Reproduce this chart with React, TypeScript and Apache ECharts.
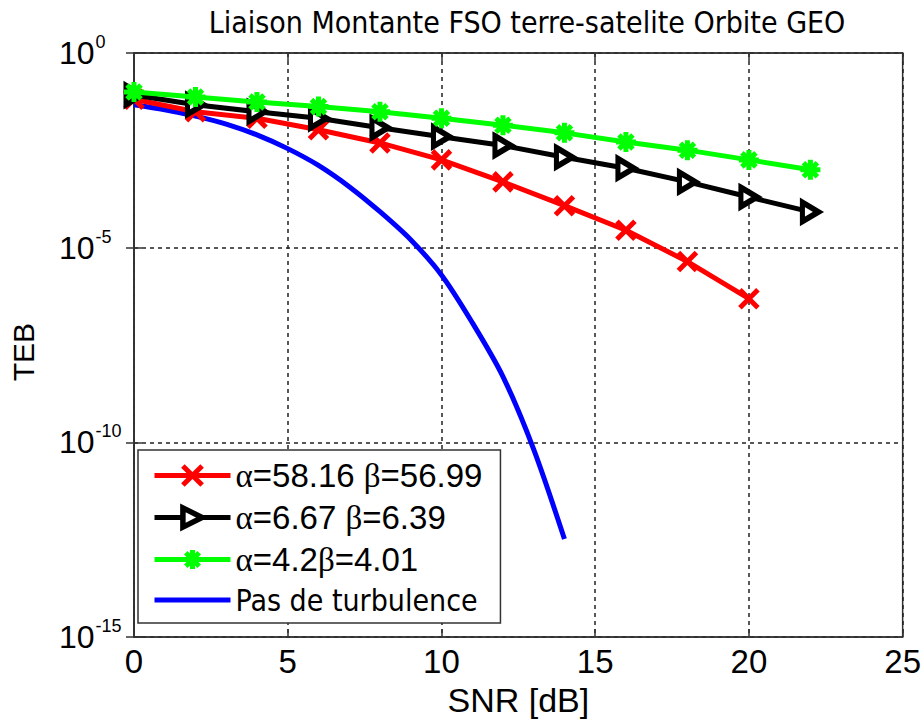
import React, { useEffect, useRef } from "react";
import * as echarts from "echarts";

const titleText = "Liaison Montante FSO terre-satelite Orbite GEO";
const xAxisName = "SNR [dB]";
const yAxisName = "TEB";

const seriesNames = [
  "α=58.16 β=56.99",
  "α=6.67 β=6.39",
  "α=4.2β=4.01",
  "Pas de turbulence",
];

const snrRed = [0, 2, 4, 6, 8, 10, 12, 14, 16, 18, 20];
const tebRed = [6.5e-2, 3.1e-2, 2.1e-2, 1.07e-2, 4.9e-3, 1.8e-3, 4.9e-4, 1.2e-4, 2.8e-5, 4.4e-6, 4.9e-7];

const snrBlack = [0, 2, 4, 6, 8, 10, 12, 14, 16, 18, 20, 22];
const tebBlack = [8.3e-2, 4.7e-2, 3.1e-2, 2.1e-2, 1.2e-2, 7.1e-3, 4.2e-3, 2.1e-3, 1.1e-3, 4.9e-4, 2.0e-4, 8.3e-5];

const snrGreen = [0, 2, 4, 6, 8, 10, 12, 14, 16, 18, 20, 22];
const tebGreen = [1.0e-1, 7.4e-2, 5.5e-2, 4.2e-2, 3.1e-2, 2.1e-2, 1.4e-2, 8.9e-3, 5.2e-3, 3.2e-3, 1.8e-3, 1.0e-3];

const snrBlue = [0, 1, 2, 3, 4, 5, 6, 7, 8, 9, 10, 11, 12, 13, 14];
const tebBlue = [4.7e-2, 3.5e-2, 2.4e-2, 1.5e-2, 7.9e-3, 3.5e-3, 1.3e-3, 3.7e-4, 8.4e-5, 1.6e-5, 2.0e-6, 1.2e-7, 4.9e-9, 6.6e-11, 3.3e-13];

const xMin = 0;
const xMax = 25;
const xStep = 5;
const yMinExp = -15;
const yMaxExp = 0;
const yStepExp = 5;

const zip = (xs: number[], ys: number[]) => xs.map((x, i) => [x, ys[i]]);

const ARIAL = "'Liberation Sans', Arial, sans-serif";
const TAHOMA = "'DejaVu Sans Condensed', 'DejaVu Sans', sans-serif";
const SERIF = "'Liberation Serif', 'DejaVu Serif', serif";

const crossSym = "path://M0,0L20,20M20,0L0,20";
const triSym = "path://M0,0L18,10L0,20Z";
const starSym = "path://M10,0L10,20M0,10L20,10M3,3L17,17M17,3L3,17";
const barIcon = "path://M0,0L76,0L76,5L0,5Z";

export default function App() {
  const ref = useRef<HTMLDivElement>(null);

  useEffect(() => {
    if (!ref.current) return;
    const chart = echarts.init(ref.current, undefined, { renderer: "svg" });

    const yLabel = (v: number) => {
      const e = Math.round(Math.log10(v));
      return `{b|10}{s|${e}}`;
    };

    const legendFmt = (name: string) => {
      if (name === seriesNames[3]) return `{t|${name}}`;
      return name
        .split(/([αβ])/)
        .map((p) => (p === "α" || p === "β" ? `{g|${p}}` : p ? `{a|${p}}` : ""))
        .join("");
    };

    chart.setOption({
      animation: false,
      backgroundColor: "#ffffff",
      title: {
        text: titleText,
        left: 522,
        textAlign: "center",
        top: 2,
        textStyle: {
          fontFamily: TAHOMA,
          fontSize: 30,
          fontWeight: "normal",
          color: "#000",
        },
      },
      grid: {
        left: 133,
        top: 53,
        width: 772,
        height: 585,
        show: true,
        borderColor: "#333",
        borderWidth: 1.5,
        backgroundColor: "#fff",
      },
      legend: {
        orient: "vertical",
        left: 138,
        top: 450,
        padding: [9, 18, 8, 14],
        itemGap: 9,
        itemWidth: 76,
        itemHeight: 24,
        borderColor: "#333",
        borderWidth: 1.5,
        backgroundColor: "#fff",
        lineStyle: { width: 5 },
        data: [
          { name: seriesNames[0], itemStyle: { borderWidth: 5 } },
          { name: seriesNames[1], itemStyle: { borderWidth: 5.5 } },
          { name: seriesNames[2], itemStyle: { borderWidth: 5 } },
          { name: seriesNames[3], icon: barIcon, itemStyle: { color: "#0000ff", borderWidth: 0 } },
        ],
        formatter: legendFmt,
        textStyle: {
          fontSize: 33,
          color: "#000",
          rich: {
            a: { fontFamily: ARIAL, fontSize: 33, color: "#000", lineHeight: 34 },
            g: { fontFamily: SERIF, fontSize: 33, color: "#000", lineHeight: 34 },
            t: { fontFamily: TAHOMA, fontSize: 30, color: "#000", lineHeight: 34 },
          },
        },
      },
      xAxis: [
        {
          type: "value",
          min: xMin,
          max: xMax,
          interval: xStep,
          name: xAxisName,
          nameLocation: "middle",
          nameGap: 42,
          nameTextStyle: { fontFamily: ARIAL, fontSize: 34, color: "#000" },
          axisLine: { show: true, onZero: false, lineStyle: { color: "#333", width: 1.5 } },
          axisTick: { show: true, inside: true, length: 8, lineStyle: { color: "#333", width: 1.5 } },
          axisLabel: { fontFamily: ARIAL, fontSize: 33, color: "#000", margin: 8 },
          splitLine: { show: true, lineStyle: { color: "#222", width: 1.5, type: [4, 4] } },
        },
        {
          type: "value",
          position: "top",
          min: xMin,
          max: xMax,
          interval: xStep,
          axisLine: { show: true, lineStyle: { color: "#333", width: 1.5 } },
          axisTick: { show: true, inside: true, length: 8, lineStyle: { color: "#333", width: 1.5 } },
          axisLabel: { show: false },
          splitLine: { show: false },
        },
      ],
      yAxis: [
        {
          type: "log",
          logBase: 10,
          min: Math.pow(10, yMinExp),
          max: Math.pow(10, yMaxExp),
          interval: yStepExp,
          name: yAxisName,
          nameLocation: "middle",
          nameGap: 96,
          nameTextStyle: { fontFamily: ARIAL, fontSize: 30, color: "#000", padding: [0, 14, 0, 0] },
          axisLine: { show: true, onZero: false, lineStyle: { color: "#333", width: 1.5 } },
          axisTick: { show: true, inside: true, length: 8, lineStyle: { color: "#333", width: 1.5 } },
          axisLabel: {
            formatter: yLabel,
            margin: 75,
            align: "left",
            rich: {
              b: { fontFamily: ARIAL, fontSize: 32, color: "#000" },
              s: { fontFamily: ARIAL, fontSize: 18, color: "#000", padding: [0, 0, 22, 1] },
            },
          },
          splitLine: { show: true, lineStyle: { color: "#222", width: 1.5, type: [4, 4] } },
        },
        {
          type: "log",
          logBase: 10,
          position: "right",
          min: Math.pow(10, yMinExp),
          max: Math.pow(10, yMaxExp),
          interval: yStepExp,
          axisLine: { show: true, lineStyle: { color: "#333", width: 1.5 } },
          axisTick: { show: true, inside: true, length: 8, lineStyle: { color: "#333", width: 1.5 } },
          axisLabel: { show: false },
          splitLine: { show: false },
        },
      ],
      series: [
        {
          name: seriesNames[0],
          type: "line",
          data: zip(snrRed, tebRed),
          symbol: crossSym,
          symbolSize: 18,
          lineStyle: { color: "#ff0000", width: 5 },
          itemStyle: { color: "#ff0000", borderColor: "#ff0000", borderWidth: 5 },
          z: 3,
        },
        {
          name: seriesNames[1],
          type: "line",
          data: zip(snrBlack, tebBlack),
          symbol: triSym,
          symbolSize: [16, 19],
          lineStyle: { color: "#000000", width: 5 },
          itemStyle: { color: "#ffffff", borderColor: "#000000", borderWidth: 5.5 },
          z: 4,
        },
        {
          name: seriesNames[2],
          type: "line",
          data: zip(snrGreen, tebGreen),
          symbol: starSym,
          symbolSize: 20,
          lineStyle: { color: "#00ff00", width: 5 },
          itemStyle: { color: "#00ff00", borderColor: "#00ff00", borderWidth: 5 },
          z: 5,
        },
        {
          name: seriesNames[3],
          type: "line",
          data: zip(snrBlue, tebBlue),
          symbol: "none",
          smooth: 0.3,
          lineStyle: { color: "#0000ff", width: 5 },
          itemStyle: { color: "#0000ff" },
          z: 2,
        },
      ],
    });

    return () => chart.dispose();
  }, []);

  return (
    <div
      ref={ref}
      style={{ position: "absolute", left: 0, top: 0, width: 924, height: 722 }}
    />
  );
}
